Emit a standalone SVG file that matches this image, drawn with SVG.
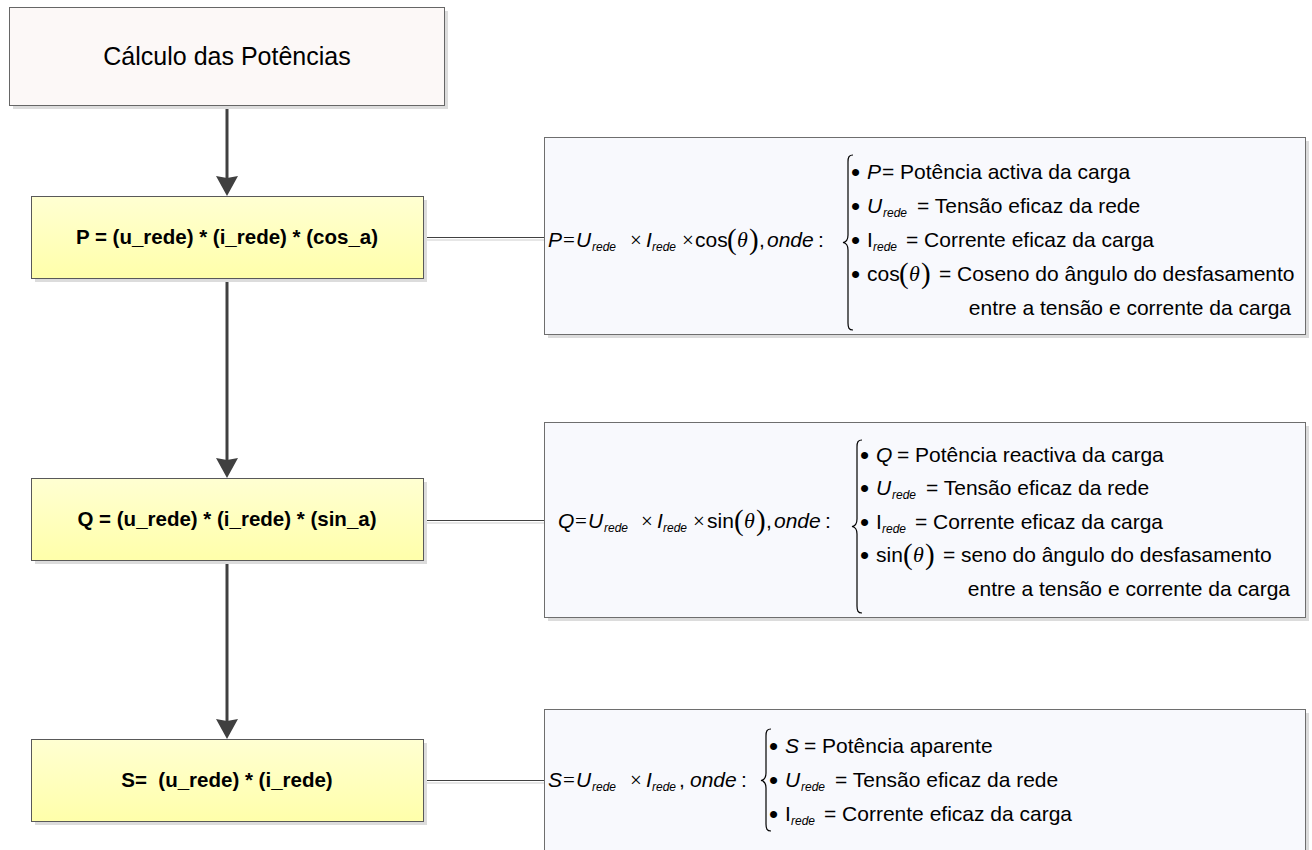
<svg xmlns="http://www.w3.org/2000/svg" width="1312" height="850" viewBox="0 0 1312 850">
  <defs>
    <linearGradient id="yellowFill" x1="0" y1="0" x2="0" y2="1">
      <stop offset="0" stop-color="#FFFFD2"/>
      <stop offset="1" stop-color="#FFFFAA"/>
    </linearGradient>
    <marker id="arrowHead" markerUnits="userSpaceOnUse" markerWidth="22" markerHeight="24" refX="10" refY="11" orient="auto" viewBox="0 0 22 22">
      <path d="M0,0 L20,11 L0,22 L2,11 z" fill="#404040"/>
    </marker>
    <style>
      .shadow { fill: #DCDCDC; }
      .titleBox { fill: #FCF8F7; stroke: #666666; stroke-width: 1; }
      .calcBox { fill: url(#yellowFill); stroke: #595959; stroke-width: 1; }
      .eqBox { fill: #F8F9FD; stroke: #6E6E6E; stroke-width: 1; }
      .flow { fill: none; stroke: #404040; stroke-width: 3; marker-end: url(#arrowHead); }
      .link { fill: none; stroke: #404040; stroke-width: 1; }
      .linkShade { fill: none; stroke: #E6E6E6; stroke-width: 2; }
      .brace { fill: none; stroke: #000000; stroke-width: 1.2; }
      .title { font-family: "Liberation Sans", Arial, sans-serif; font-size: 25px; fill: #000000; text-anchor: middle; }
      .calc { font-family: "Liberation Sans", Arial, sans-serif; font-size: 20.5px; font-weight: bold; fill: #000000; text-anchor: middle; }
      .f { font-family: "Liberation Sans", Arial, sans-serif; font-size: 21px; fill: #000000; }
      .i { font-style: italic; }
      .sub { font-size: 12px; font-style: italic; }
      .op { font-family: "Liberation Serif", "Times New Roman", serif; }
      .par { font-family: "Liberation Serif", "Times New Roman", serif; font-size: 29px; }
      .th { font-family: "Liberation Serif", "Times New Roman", serif; font-style: italic; font-size: 22px; }
      .dot { font-size: 26px; }
    </style>
  </defs>

  <!-- connectors: main flow arrows and the links to the equation panels -->
  <g id="connectors">
    <path class="flow" d="M227,106 L227,186"/>
    <path class="flow" d="M227,279 L227,468"/>
    <path class="flow" d="M227,561 L227,729"/>
    <path class="linkShade" d="M424,240 L544,240"/>
    <path class="link" d="M423,237.5 L544,237.5"/>
    <path class="linkShade" d="M424,523 L544,523"/>
    <path class="link" d="M423,520.5 L544,520.5"/>
    <path class="linkShade" d="M424,783 L544,783"/>
    <path class="link" d="M423,780.5 L544,780.5"/>
  </g>

  <!-- start block -->
  <g id="node-title">
    <rect class="shadow" x="13" y="11" width="435" height="98"/>
    <rect class="titleBox" x="9.5" y="7.5" width="435" height="98"/>
    <text class="title" x="227" y="65">Cálculo das Potências</text>
  </g>

  <!-- active power -->
  <g id="node-p">
    <rect class="shadow" x="35" y="200" width="392" height="82"/>
    <rect class="calcBox" x="31.5" y="196.5" width="392" height="82"/>
    <text class="calc" x="227" y="244">P = (u_rede) * (i_rede) * (cos_a)</text>
  </g>

  <!-- reactive power -->
  <g id="node-q">
    <rect class="shadow" x="35" y="482" width="392" height="82"/>
    <rect class="calcBox" x="31.5" y="478.5" width="392" height="82"/>
    <text class="calc" x="227" y="526">Q = (u_rede) * (i_rede) * (sin_a)</text>
  </g>

  <!-- apparent power -->
  <g id="node-s">
    <rect class="shadow" x="35" y="743" width="392" height="82"/>
    <rect class="calcBox" x="31.5" y="739.5" width="392" height="82"/>
    <text class="calc" x="227" y="787">S=&#160; (u_rede) * (i_rede)</text>
  </g>

  <!-- equation panel for P -->
  <g id="eq-p">
    <rect class="shadow" x="548" y="141" width="761" height="197"/>
    <rect class="eqBox" x="544.5" y="137.5" width="761" height="197"/>
    <text class="f" y="247">
      <tspan class="i" x="548">P</tspan><tspan class="op" x="563">=</tspan><tspan class="i" x="576">U</tspan><tspan class="sub" x="592" y="251">rede</tspan><tspan class="op" x="630" y="247">×</tspan><tspan class="i" x="646">I</tspan><tspan class="sub" x="652" y="251">rede</tspan><tspan class="op" x="682" y="247">×</tspan><tspan x="695">cos</tspan><tspan class="par" x="727" y="249">(</tspan><tspan class="th" x="737" y="247">θ</tspan><tspan class="par" x="749" y="249">)</tspan><tspan x="759" y="247">,</tspan><tspan class="i" x="767">onde</tspan><tspan x="818">:</tspan>
    </text>
    <path class="brace" d="M853,155 C849,155 848,157 848,162 L848,235 C848,239 846,242 843,242.5 C846,243 848,246 848,250 L848,323 C848,328 849,330 853,330"/>
    <text class="f" y="179"><tspan class="dot" x="851" y="181">•</tspan><tspan class="i" x="867" y="179">P</tspan><tspan x="882">= Potência activa da carga</tspan></text>
    <text class="f" y="213"><tspan class="dot" x="851" y="215">•</tspan><tspan class="i" x="867" y="213">U</tspan><tspan class="sub" x="883" y="217">rede</tspan><tspan x="917" y="213">= Tensão eficaz da rede</tspan></text>
    <text class="f" y="247"><tspan class="dot" x="851" y="249">•</tspan><tspan x="867" y="247">I</tspan><tspan class="sub" x="873" y="251">rede</tspan><tspan x="906" y="247">= Corrente eficaz da carga</tspan></text>
    <text class="f" y="281"><tspan class="dot" x="851" y="283">•</tspan><tspan x="867" y="281">cos</tspan><tspan class="par" x="899" y="283">(</tspan><tspan class="th" x="909" y="281">θ</tspan><tspan class="par" x="921" y="283">)</tspan><tspan x="939" y="281">= Coseno do ângulo do desfasamento</tspan></text>
    <text class="f" x="1291" y="315" text-anchor="end">entre a tensão e corrente da carga</text>
  </g>

  <!-- equation panel for Q -->
  <g id="eq-q">
    <rect class="shadow" x="548" y="426" width="761" height="195"/>
    <rect class="eqBox" x="544.5" y="422.5" width="761" height="195"/>
    <text class="f" y="528">
      <tspan class="i" x="558">Q</tspan><tspan class="op" x="575">=</tspan><tspan class="i" x="588">U</tspan><tspan class="sub" x="604" y="532">rede</tspan><tspan class="op" x="641" y="528">×</tspan><tspan class="i" x="657">I</tspan><tspan class="sub" x="663" y="532">rede</tspan><tspan class="op" x="693" y="528">×</tspan><tspan x="707">sin</tspan><tspan class="par" x="734" y="530">(</tspan><tspan class="th" x="744" y="528">θ</tspan><tspan class="par" x="756" y="530">)</tspan><tspan x="766" y="528">,</tspan><tspan class="i" x="774">onde</tspan><tspan x="825">:</tspan>
    </text>
    <path class="brace" d="M862,440 C858,440 857,442 857,447 L857,519 C857,523 855,526 852,526.5 C855,527 857,530 857,534 L857,606 C857,611 858,613 862,613"/>
    <text class="f" y="462"><tspan class="dot" x="860" y="464">•</tspan><tspan class="i" x="876" y="462">Q</tspan><tspan x="897">= Potência reactiva da carga</tspan></text>
    <text class="f" y="495"><tspan class="dot" x="860" y="497">•</tspan><tspan class="i" x="876" y="495">U</tspan><tspan class="sub" x="892" y="499">rede</tspan><tspan x="926" y="495">= Tensão eficaz da rede</tspan></text>
    <text class="f" y="529"><tspan class="dot" x="860" y="531">•</tspan><tspan x="876" y="529">I</tspan><tspan class="sub" x="882" y="533">rede</tspan><tspan x="915" y="529">= Corrente eficaz da carga</tspan></text>
    <text class="f" y="562"><tspan class="dot" x="860" y="564">•</tspan><tspan x="876" y="562">sin</tspan><tspan class="par" x="903" y="564">(</tspan><tspan class="th" x="913" y="562">θ</tspan><tspan class="par" x="925" y="564">)</tspan><tspan x="943" y="562">= seno do ângulo do desfasamento</tspan></text>
    <text class="f" x="1290" y="596" text-anchor="end">entre a tensão e corrente da carga</text>
  </g>

  <!-- equation panel for S -->
  <g id="eq-s">
    <rect class="shadow" x="548" y="713" width="761" height="150"/>
    <rect class="eqBox" x="544.5" y="709.5" width="761" height="150"/>
    <text class="f" y="787">
      <tspan class="i" x="548">S</tspan><tspan class="op" x="563">=</tspan><tspan class="i" x="576">U</tspan><tspan class="sub" x="592" y="791">rede</tspan><tspan class="op" x="630" y="787">×</tspan><tspan class="i" x="646">I</tspan><tspan class="sub" x="652" y="791">rede</tspan><tspan x="679" y="787">,</tspan><tspan class="i" x="690">onde</tspan><tspan x="741">:</tspan>
    </text>
    <path class="brace" d="M771,729 C767,729 766,731 766,736 L766,773 C766,777 764,780 761,780.5 C764,781 766,784 766,788 L766,824 C766,829 767,831 771,831"/>
    <text class="f" y="753"><tspan class="dot" x="769" y="755">•</tspan><tspan class="i" x="785" y="753">S</tspan><tspan x="804">= Potência aparente</tspan></text>
    <text class="f" y="787"><tspan class="dot" x="769" y="789">•</tspan><tspan class="i" x="785" y="787">U</tspan><tspan class="sub" x="801" y="791">rede</tspan><tspan x="835" y="787">= Tensão eficaz da rede</tspan></text>
    <text class="f" y="821"><tspan class="dot" x="769" y="823">•</tspan><tspan x="785" y="821">I</tspan><tspan class="sub" x="791" y="825">rede</tspan><tspan x="824" y="821">= Corrente eficaz da carga</tspan></text>
  </g>
</svg>
